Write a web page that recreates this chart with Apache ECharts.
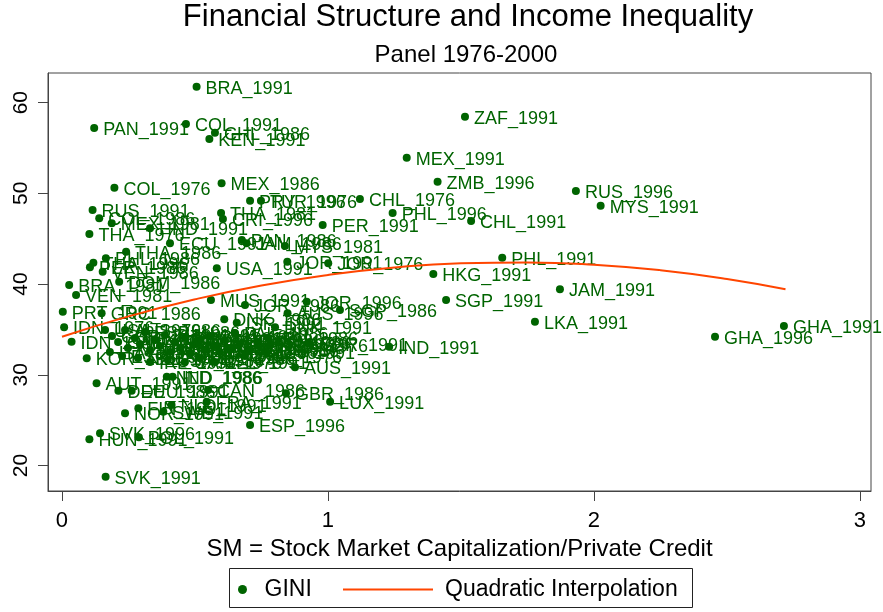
<!DOCTYPE html>
<html>
<head>
<meta charset="utf-8">
<script src="https://cdn.jsdelivr.net/npm/echarts@6/dist/echarts.min.js"></script>
<style>
  html, body { margin: 0; padding: 0; background: #fff; }
  #chart { width: 883px; height: 612px; }
</style>
</head>
<body>
<div id="chart"></div>
<script>
// country_year labels, SM ratio and Gini
var names = [
  'BRA_1991', 'PAN_1991', 'COL_1991', 'CHL_1986', 'KEN_1991', 'ZAF_1991', 'MEX_1991', 'ZMB_1996',
  'COL_1976', 'MEX_1986', 'CHL_1976', 'RUS_1996', 'MYS_1991', 'PRY_1996', 'TUR_1976', 'PHL_1996',
  'CHL_1991', 'PER_1991', 'THA_1981', 'CRI_1996', 'RUS_1991', 'COL_1986', 'MEX_1981', 'HND_1991',
  'THA_1976', 'ECU_1991', 'THA_1986', 'PHL_1986', 'THA_1996', 'PER_1986', 'VEN_1986', 'USA_1991',
  'BRA_1981', 'DOM_1986', 'VEN_1981', 'PAN_1986', 'JAM_1986', 'MYS_1981', 'JOR_1991', 'JOR_1976',
  'PHL_1991', 'HKG_1991', 'SGP_1991', 'JAM_1991', 'LKA_1991', 'GHA_1996', 'GHA_1991', 'IND_1991',
  'MUS_1991', 'JOR_1986', 'JOR_1996', 'SGP_1986', 'AUS_1996', 'DNK_1986', 'ISR_1991', 'DNK_1991',
  'IRN_1986', 'GBR_1991', 'AUS_1991', 'PRT_1991', 'GRC_1986', 'IDN_1976', 'IDN_1986', 'KOR_1986',
  'NLD_1986', 'IND_1986', 'AUT_1991', 'DEU_1986', 'DEU_1991', 'CAN_1986', 'FRA_1991', 'GBR_1986',
  'LUX_1991', 'NLD_1991', 'SWE_1991', 'FIN_1991', 'NOR_1991', 'ESP_1996', 'SVK_1996', 'HUN_1991',
  'POL_1991', 'SVK_1991',
  'USA_1976', 'GBR_1976', 'CAN_1991', 'AUS_1986', 'NZL_1986', 'IRL_1986', 'ITA_1986', 'ESP_1986',
  'JPN_1991', 'KOR_1991', 'TWN_1991', 'THA_1991', 'PAK_1991', 'BGD_1991', 'LKA_1986', 'EGY_1991',
  'TUN_1991', 'MAR_1991', 'CIV_1986', 'NGA_1986', 'GHA_1986', 'UGA_1986', 'URY_1986', 'ARG_1986',
  'GRC_1991', 'PRT_1986', 'ISR_1986', 'JPN_1986', 'IDN_1991', 'ITA_1991', 'ESP_1991', 'NZL_1991',
  'IRL_1991', 'USA_1986', 'CAN_1976', 'FRA_1986', 'BEL_1991', 'DNK_1976', 'KOR_1976', 'PAK_1986'
];

var smValues = [
  0.506, 0.121, 0.466, 0.575, 0.554, 1.515, 1.296, 1.412,
  0.197, 0.600, 1.120, 1.932, 2.025, 0.707, 0.748, 1.243,
  1.538, 0.980, 0.598, 0.605, 0.115, 0.140, 0.187, 0.331,
  0.103, 0.406, 0.241, 0.165, 0.118, 0.105, 0.153, 0.582,
  0.027, 0.215, 0.053, 0.676, 0.694, 0.838, 0.847, 1.001,
  1.655, 1.396, 1.444, 1.872, 1.778, 2.455, 2.714, 1.230,
  0.560, 0.688, 0.920, 1.045, 0.848, 0.610, 0.657, 0.801,
  0.774, 0.932, 0.876, 0.003, 0.149, 0.008, 0.036, 0.093,
  0.394, 0.416, 0.130, 0.212, 0.262, 0.549, 0.544, 0.842,
  1.008, 0.412, 0.381, 0.287, 0.237, 0.707, 0.143, 0.103,
  0.289, 0.164,
  0.162, 0.188, 0.211, 0.237, 0.248, 0.274, 0.293, 0.312,
  0.331, 0.350, 0.368, 0.387, 0.406, 0.425, 0.444, 0.462,
  0.481, 0.500, 0.519, 0.538, 0.556, 0.575, 0.594, 0.613,
  0.632, 0.669, 0.707, 0.737, 0.763, 0.180, 0.226, 0.286,
  0.331, 0.398, 0.462, 0.519, 0.575, 0.688, 0.782, 0.650
];

var giniValues = [
  61.76, 57.21, 57.65, 56.69, 56.00, 58.46, 53.94, 51.29,
  50.63, 51.11, 49.38, 50.26, 48.64, 49.20, 49.20, 47.84,
  46.96, 46.52, 47.84, 47.18, 48.17, 47.25, 46.70, 46.15,
  45.52, 44.50, 43.57, 42.84, 42.36, 41.85, 41.37, 41.74,
  39.90, 40.26, 38.80, 44.86, 44.50, 44.20, 42.47, 42.29,
  42.91, 41.11, 38.25, 39.43, 35.85, 34.20, 35.38, 33.10,
  38.25, 37.70, 38.06, 37.14, 36.78, 36.12, 35.74, 35.24,
  34.06, 33.40, 30.83, 36.96, 36.78, 35.24, 33.65, 31.82,
  29.79, 29.79, 29.06, 28.25, 28.25, 28.32, 27.03, 27.96,
  27.03, 26.67, 25.93, 26.31, 25.76, 24.47, 23.55, 22.89,
  23.11, 18.77,
  34.94, 34.28, 33.62, 34.94, 32.95, 34.06, 33.40, 34.72,
  32.73, 33.84, 33.18, 34.39, 32.51, 33.62, 32.95, 34.06,
  32.29, 33.40, 33.84, 32.73, 34.28, 33.18, 32.51, 33.84,
  32.95, 33.40, 32.73, 33.62, 32.51, 32.51, 32.07, 31.85,
  31.41, 31.63, 31.41, 31.85, 31.41, 32.07, 33.29, 34.61
];

// quadratic fit curve
var fitSM = [0, 0.25, 0.5, 0.75, 1.0, 1.25, 1.5, 1.75, 2.0, 2.25, 2.5, 2.72];
var fitGini = [34.2, 36.44, 38.32, 39.85, 41.01, 41.83, 42.29, 42.39, 42.14, 41.53, 40.57, 39.43];

var xTicks = [0, 1, 2, 3];
var yTicks = [20, 30, 40, 50, 60];

var FONT = '"Liberation Sans", Arial, sans-serif';
var GREEN = '#006400';
var ORANGE = '#ff4500';

var points = names.map(function (n, i) {
  return [smValues[i], giniValues[i], n];
});
var fitLine = fitSM.map(function (x, i) {
  return [x, fitGini[i]];
});

var chart = echarts.init(document.getElementById('chart'), null, { renderer: 'canvas' });
chart.setOption({
  animation: false,
  backgroundColor: '#fff',
  textStyle: { fontFamily: FONT },
  title: [
    {
      text: 'Financial Structure and Income Inequality',
      left: 463,
      top: -3,
      textAlign: 'center',
      textStyle: { fontSize: 31, fontWeight: 'normal', color: '#000', fontFamily: FONT }
    },
    {
      text: 'Panel 1976-2000',
      left: 461,
      top: 38,
      textAlign: 'center',
      textStyle: { fontSize: 24, fontWeight: 'normal', color: '#000', fontFamily: FONT }
    }
  ],
  grid: {
    left: 48,
    right: 12,
    top: 73,
    bottom: 121,
    show: true,
    borderColor: '#444',
    borderWidth: 1
  },
  legend: [
    {
      data: [{ name: 'GINI', icon: 'circle' }],
      left: 238,
      top: 578,
      padding: 0,
      itemWidth: 34,
      itemHeight: 9,
      selectedMode: false,
      itemStyle: { color: GREEN, opacity: 1 },
      textStyle: { fontSize: 23, color: '#000', fontFamily: FONT }
    },
    {
      data: [{ name: 'Quadratic Interpolation', icon: 'rect' }],
      left: 343,
      top: 578,
      padding: 0,
      itemWidth: 90,
      itemHeight: 2,
      selectedMode: false,
      itemStyle: { color: ORANGE },
      textStyle: { fontSize: 23, color: '#000', fontFamily: FONT, padding: [0, 0, 0, 7] }
    }
  ],
  graphic: [
    {
      type: 'rect',
      z: 0,
      shape: { x: 229.5, y: 568.5, width: 463, height: 39 },
      style: { fill: '#fff', stroke: '#222', lineWidth: 1 }
    }
  ],
  xAxis: {
    type: 'value',
    min: -0.0526,
    max: 3.0414,
    name: 'SM = Stock Market Capitalization/Private Credit',
    nameLocation: 'middle',
    nameGap: 41,
    nameTextStyle: { fontSize: 24, color: '#000', fontFamily: FONT },
    axisLine: { show: true, onZero: false, lineStyle: { color: '#444', width: 1 } },
    axisTick: { show: true, length: 10, customValues: xTicks, lineStyle: { color: '#444' } },
    axisLabel: { customValues: xTicks, fontSize: 22, color: '#000', margin: 19, fontFamily: FONT },
    splitLine: { show: false }
  },
  yAxis: {
    type: 'value',
    min: 17.19,
    max: 63.27,
    axisLine: { show: true, onZero: false, lineStyle: { color: '#444', width: 1 } },
    axisTick: { show: true, length: 10, customValues: yTicks, lineStyle: { color: '#444' } },
    axisLabel: { customValues: yTicks, rotate: 90, fontSize: 21, color: '#000', margin: 16, fontFamily: FONT },
    splitLine: { show: false }
  },
  series: [
    {
      name: 'GINI',
      type: 'scatter',
      z: 2,
      data: points,
      symbol: 'circle',
      symbolSize: 8,
      itemStyle: { color: GREEN, opacity: 1 },
      label: {
        show: true,
        position: 'right',
        distance: 5,
        offset: [0, 2],
        color: GREEN,
        fontSize: 18,
        fontFamily: FONT,
        formatter: function (p) { return p.data[2]; }
      }
    },
    {
      name: 'Quadratic Interpolation',
      type: 'line',
      z: 5,
      data: fitLine,
      smooth: true,
      symbol: 'none',
      lineStyle: { color: ORANGE, width: 2 },
      itemStyle: { color: ORANGE }
    }
  ]
});
</script>
</body>
</html>
